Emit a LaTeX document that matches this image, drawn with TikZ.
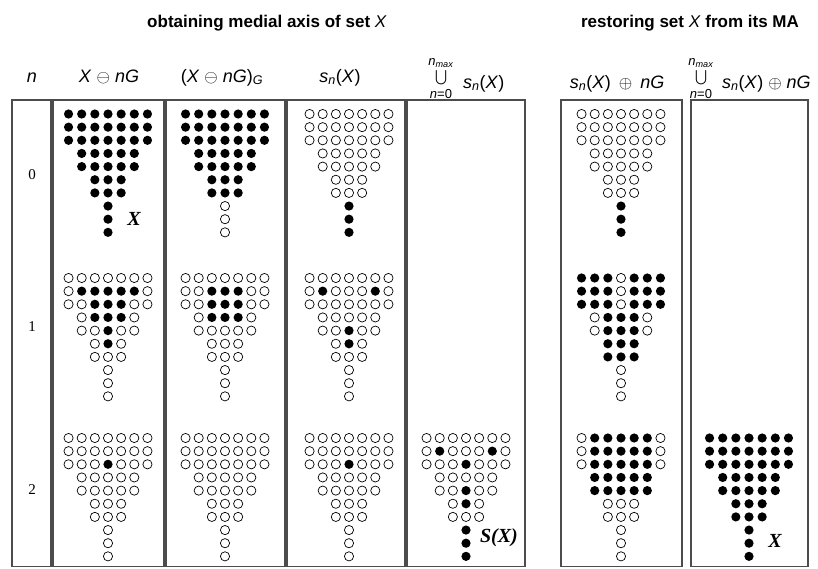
\documentclass[tikz,border=0pt]{standalone}
\usepackage{amsmath}
\usepackage{fontspec}
\setmainfont{Liberation Serif}
\setsansfont{Liberation Sans}
% limits of the union sign, set in upright-size sans text
\newcommand\limtext[1]{\text{\sffamily\fontsize{13}{15}\selectfont #1}}
\begin{document}
\begin{tikzpicture}[x=1pt,y=-1pt,
  panel/.style={draw=black!70, line width=1.1pt},
  dot1/.style={fill=black},
  dot0/.style={draw=black, line width=0.7pt, fill=white},
  head/.style={anchor=base, inner sep=0pt, font=\sffamily\fontsize{18}{20}\selectfont},
  bigop/.style={anchor=center, inner sep=0pt, font=\fontsize{14}{16}\selectfont},
  title/.style={anchor=base, inner sep=0pt, font=\sffamily\fontsize{17}{20}\selectfont},
  rowlab/.style={anchor=base, inner sep=0pt, font=\rmfamily\fontsize{15}{17}\selectfont},
  setlab/.style={anchor=base, inner sep=0pt, font=\rmfamily\bfseries\itshape\fontsize{20}{22}\selectfont}]
\useasboundingbox (0,0) rectangle (818,568);

% one pixel set: rows of 7,7,7,5,5,3,3,1,1,1 points, 1 = point of the set, 0 = point outside it
\def\gap{13.15}
\newcommand\dotgrid[3]{%
  \foreach \w/\bits [count=\rr from 0] in {#3} {
    \foreach \b [count=\kk from 0] in \bits {
      \path[dot\b] ({#1+(\kk-(\w-1)/2)*\gap},{#2+\rr*\gap}) circle[radius=4.6];
    }
  }
}

% titles
\node[title] (t1) at (267,27) {\textbf{obtaining medial axis of set} \textit{X}};
\node[title] (t2) at (690,27) {\textbf{restoring set} \textit{X} \textbf{from its MA}};

% column headers
\node[head] (hn) at (32,82) {\textit{n}};
\node[head] (h1) at (109,82) {\textit{X} $\ominus$ \textit{nG}};
\node[head] (h2) at (222,82) {(\textit{X} $\ominus$ \textit{nG})\textsubscript{\textit{G}}};
\node[head] (h3) at (340,82) {\textit{s}\textsubscript{\textit{n}}(\textit{X})};

\node[bigop] (u4) at (441,78.5) {$\bigcup\limits_{\limtext{\rule{0pt}{11pt}\textit{n}=0}}^{\limtext{\textit{n}\textsubscript{\textit{max}}\rule[-4pt]{0pt}{1pt}}}$};
\node[head, anchor=base west] (h4) at (463,88) {\textit{s}\textsubscript{\textit{n}}(\textit{X})};

\node[head] (h5) at (617,88) {\textit{s}\textsubscript{\textit{n}}(\textit{X})\, $\oplus$\, \textit{nG}};

\node[bigop] (u6) at (701,78.5) {$\bigcup\limits_{\limtext{\rule{0pt}{11pt}\textit{n}=0}}^{\limtext{\textit{n}\textsubscript{\textit{max}}\rule[-4pt]{0pt}{1pt}}}$};
\node[head, anchor=base west] (h6) at (722,88) {\textit{s}\textsubscript{\textit{n}}(\textit{X}) $\oplus$ \textit{nG}};

% column frames
\foreach \xa/\xb in {12/51, 53/164, 166/285, 287/405, 407/525, 561/682, 691/808}
  \draw[panel] (\xa,100) rectangle (\xb,566.5);

% row numbers
\node[rowlab] (r0) at (32,179) {0};
\node[rowlab] (r1) at (32,331) {1};
\node[rowlab] (r2) at (32,494) {2};

% n = 0
\dotgrid{108}{114}{7/{1,1,1,1,1,1,1},7/{1,1,1,1,1,1,1},7/{1,1,1,1,1,1,1},5/{1,1,1,1,1},5/{1,1,1,1,1},3/{1,1,1},3/{1,1,1},1/{1},1/{1},1/{1}}
\dotgrid{225}{114}{7/{1,1,1,1,1,1,1},7/{1,1,1,1,1,1,1},7/{1,1,1,1,1,1,1},5/{1,1,1,1,1},5/{1,1,1,1,1},3/{1,1,1},3/{1,1,1},1/{0},1/{0},1/{0}}
\dotgrid{349}{114}{7/{0,0,0,0,0,0,0},7/{0,0,0,0,0,0,0},7/{0,0,0,0,0,0,0},5/{0,0,0,0,0},5/{0,0,0,0,0},3/{0,0,0},3/{0,0,0},1/{1},1/{1},1/{1}}
\dotgrid{621}{114}{7/{0,0,0,0,0,0,0},7/{0,0,0,0,0,0,0},7/{0,0,0,0,0,0,0},5/{0,0,0,0,0},5/{0,0,0,0,0},3/{0,0,0},3/{0,0,0},1/{1},1/{1},1/{1}}

% n = 1
\dotgrid{108}{278}{7/{0,0,0,0,0,0,0},7/{0,1,1,1,1,1,0},7/{0,0,1,1,1,0,0},5/{0,1,1,1,0},5/{0,0,1,0,0},3/{0,1,0},3/{0,0,0},1/{0},1/{0},1/{0}}
\dotgrid{225}{278}{7/{0,0,0,0,0,0,0},7/{0,0,1,1,1,0,0},7/{0,0,1,1,1,0,0},5/{0,1,1,1,0},5/{0,0,0,0,0},3/{0,0,0},3/{0,0,0},1/{0},1/{0},1/{0}}
\dotgrid{349}{278}{7/{0,0,0,0,0,0,0},7/{0,1,0,0,0,1,0},7/{0,0,0,0,0,0,0},5/{0,0,0,0,0},5/{0,0,1,0,0},3/{0,1,0},3/{0,0,0},1/{0},1/{0},1/{0}}
\dotgrid{621}{278}{7/{1,1,1,0,1,1,1},7/{1,1,1,0,1,1,1},7/{1,1,1,0,1,1,1},5/{0,1,1,1,0},5/{0,1,1,1,0},3/{1,1,1},3/{1,1,1},1/{0},1/{0},1/{0}}

% n = 2
\dotgrid{108}{438}{7/{0,0,0,0,0,0,0},7/{0,0,0,0,0,0,0},7/{0,0,0,1,0,0,0},5/{0,0,0,0,0},5/{0,0,0,0,0},3/{0,0,0},3/{0,0,0},1/{0},1/{0},1/{0}}
\dotgrid{225}{438}{7/{0,0,0,0,0,0,0},7/{0,0,0,0,0,0,0},7/{0,0,0,0,0,0,0},5/{0,0,0,0,0},5/{0,0,0,0,0},3/{0,0,0},3/{0,0,0},1/{0},1/{0},1/{0}}
\dotgrid{349}{438}{7/{0,0,0,0,0,0,0},7/{0,0,0,0,0,0,0},7/{0,0,0,1,0,0,0},5/{0,0,0,0,0},5/{0,0,0,0,0},3/{0,0,0},3/{0,0,0},1/{0},1/{0},1/{0}}
\dotgrid{466}{438}{7/{0,0,0,0,0,0,0},7/{0,1,0,0,0,1,0},7/{0,0,0,1,0,0,0},5/{0,0,0,0,0},5/{0,0,1,0,0},3/{0,1,0},3/{0,0,0},1/{1},1/{1},1/{1}}
\dotgrid{621}{438}{7/{0,1,1,1,1,1,0},7/{0,1,1,1,1,1,0},7/{0,1,1,1,1,1,0},5/{1,1,1,1,1},5/{1,1,1,1,1},3/{0,0,0},3/{0,0,0},1/{0},1/{0},1/{0}}
\dotgrid{749}{438}{7/{1,1,1,1,1,1,1},7/{1,1,1,1,1,1,1},7/{1,1,1,1,1,1,1},5/{1,1,1,1,1},5/{1,1,1,1,1},3/{1,1,1},3/{1,1,1},1/{1},1/{1},1/{1}}

% set names
\node[setlab] (lx1) at (134,225) {X};
\node[setlab] (ls) at (499,542) {S(X)};
\node[setlab] (lx2) at (775,547) {X};
\end{tikzpicture}
\end{document}
